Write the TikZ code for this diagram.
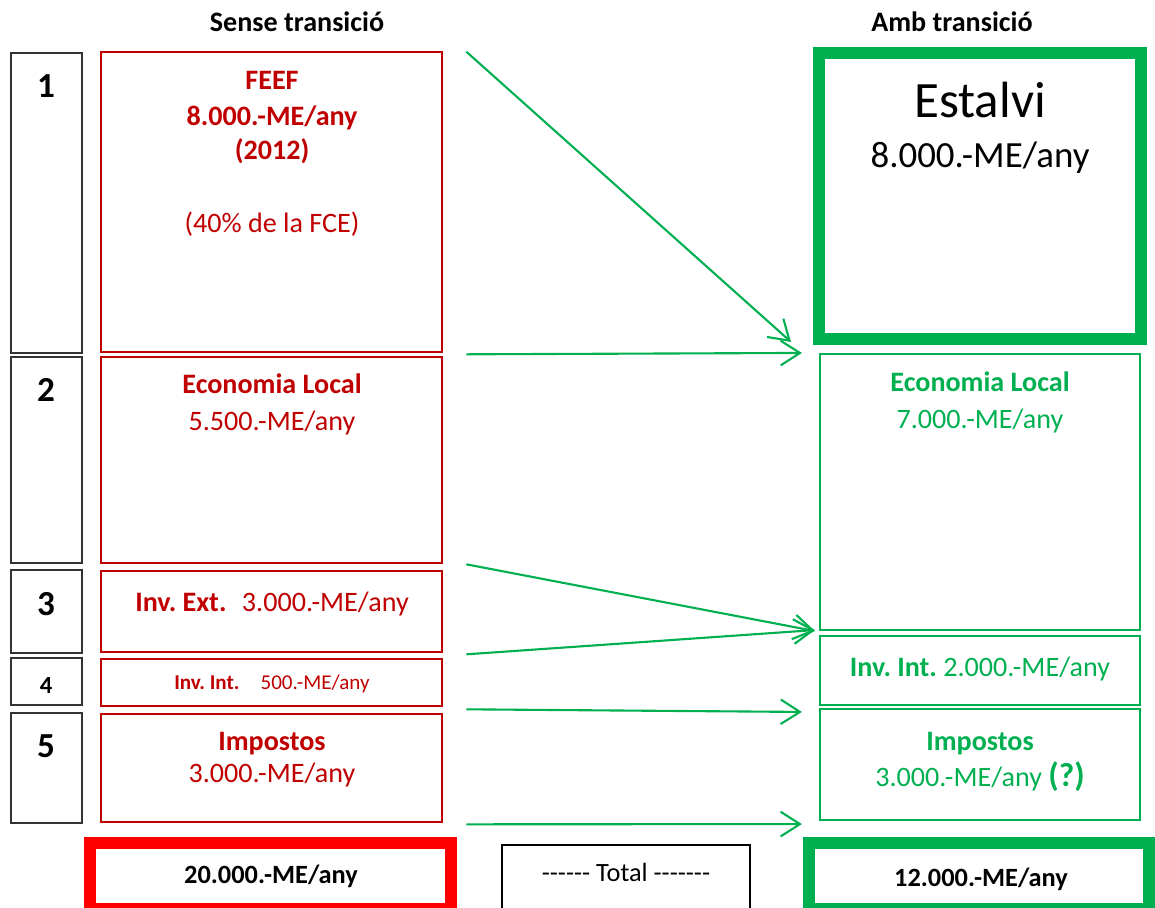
\documentclass[tikz,border=0pt]{standalone}
\usepackage{fontspec}
\setmainfont{Carlito}
\usetikzlibrary{arrows.meta,calc,fit}
\definecolor{darkred}{HTML}{C00000}
\definecolor{brightred}{HTML}{FF0000}
\definecolor{grn}{HTML}{00B050}
\newcommand{\dsh}{\hbox{-}}
\frenchspacing
\tikzset{
  numbox/.style={draw=black!80, line width=0.6pt, inner sep=0pt},
  redbox/.style={draw=darkred, line width=1.5pt, inner sep=0pt},
  grnbox/.style={draw=grn, line width=1.2pt, inner sep=0pt},
  totbox/.style={line width=6.8pt, inner sep=0pt},
  flow/.style={draw=grn, line width=1.2pt, -{Straight Barb[length=11pt,width=14pt]}},
  txt/.style={anchor=base, inner sep=0pt, font=\fontsize{16}{19}\selectfont},
  btxt/.style={anchor=base, inner sep=0pt, font=\fontsize{16}{19}\selectfont\bfseries},
  numtxt/.style={anchor=base, inner sep=0pt, font=\fontsize{20}{24}\selectfont\bfseries}
}
\begin{document}
\begin{tikzpicture}[x=0.02cm, y=-0.02cm]
\useasboundingbox (0,0) rectangle (1155,908);
\clip (0,0) rectangle (1155,908);
% headers
\node[btxt] (hdrL) at (297,32) {Sense transició};
\node[btxt] (hdrR) at (952,32) {Amb transició};
% numbered rows
\node[numbox, fit={(11,53) (82,353)}] (n1) {};
\node[numbox, fit={(11,357) (82,563)}] (n2) {};
\node[numbox, fit={(11,570) (82,653)}] (n3) {};
\node[numbox, fit={(11,658) (82,705)}] (n4) {};
\node[numbox, fit={(11,713) (82,823)}] (n5) {};
\node[numtxt] (l1) at (46,98) {1};
\node[numtxt] (l2) at (46,401) {2};
\node[numtxt] (l3) at (46,615) {3};
\node[numtxt, font=\fontsize{14}{17}\selectfont\bfseries] (l4) at (46,693) {4};
\node[numtxt] (l5) at (46,757) {5};
% sense transicio
\node[redbox, fit={(101,52) (442,352)}] (feef) {};
\node[redbox, fit={(101,357) (442,563)}] (ecoL) {};
\node[redbox, fit={(101,571) (442,652)}] (invextL) {};
\node[redbox, fit={(101,659) (442,706)}] (invintL) {};
\node[redbox, fit={(101,714) (442,822)}] (impL) {};
\node[btxt, text=darkred] (feef1) at (272,90) {FEEF};
\node[btxt, text=darkred] (feef2) at (272,126) {8.000.-ME/any};
\node[btxt, text=darkred] (feef3) at (272,160) {(2012)};
\node[txt, text=darkred] (feef4) at (272,233) {(40\% de la FCE)};
\node[btxt, text=darkred] (ecoL1) at (272,394) {Economia Local};
\node[txt, text=darkred] (ecoL2) at (272,430) {5.500.-ME/any};
\node[txt, text=darkred] (invextL1) at (272,611) {\textbf{Inv. Ext.}\hspace{0.55em}3.000.-ME/any};
\node[txt, text=darkred, font=\fontsize{12}{14}\selectfont] (invintL1) at (272,689) {\textbf{Inv. Int.}\hspace{1em}500.-ME/any};
\node[btxt, text=darkred] (impL1) at (272,750) {Impostos};
\node[txt, text=darkred] (impL2) at (272,782) {3.000.-ME/any};
% amb transicio
\node[totbox, draw=grn, fit={(819,53) (1141,339)}] (estalvi) {};
\node[grnbox, fit={(820,354) (1140,630)}] (ecoR) {};
\node[grnbox, fit={(820,636) (1140,705)}] (invintR) {};
\node[grnbox, fit={(820,709) (1140,820)}] (impR) {};
\node[txt, font=\fontsize{29}{34}\selectfont] (est1) at (980,118) {Estalvi};
\node[txt, font=\fontsize{21}{25}\selectfont] (est2) at (980,168) {8.000.-ME/any};
\node[btxt, text=grn] (ecoR1) at (980,392) {Economia Local};
\node[txt, text=grn] (ecoR2) at (980,428) {7.000.-ME/any};
\node[txt, text=grn] (invintR1) at (980,676) {\textbf{Inv. Int.} 2.000.-ME/any};
\node[btxt, text=grn] (impR1) at (980,750) {Impostos};
\node[txt, text=grn] (impR2) at (980,786) {3.000.-ME/any {\fontsize{19}{22}\selectfont\bfseries(?)}};
% fluxos
\draw[flow] ($(feef.north east)+(23,1)$) -- ($(estalvi.south west)+(-22,-3)$);
\draw[flow] ($(feef.south east)+(23,1)$) -- ($(ecoR.north west)+(-17,0)$);
\draw[flow] ($(ecoL.south east)+(23,0)$) -- ($(ecoR.south west)+(-4,0)$);
\draw[flow] ($(invextL.south east)+(23,1)$) -- ($(ecoR.south west)+(-4,-1)$);
\draw[flow] ($(invintL.south east)+(23,2)$) -- ($(impR.north west)+(-17,4)$);
\draw[flow] ($(impL.south east)+(23,1)$) -- ($(impR.south west)+(-17,3)$);
% totals
\node[totbox, draw=brightred, fit={(90,843) (451,909)}] (totL) {};
\node[numbox, draw=black, line width=1pt, fit={(502,845) (750,914)}] (totM) {};
\node[totbox, draw=grn, fit={(809,843) (1149,909)}] (totR) {};
\node[btxt, font=\fontsize{15}{18}\selectfont\bfseries] (totL1) at (271,883) {20.000.-ME/any};
\node[txt, font=\fontsize{15}{18}\selectfont] (totM1) at (626,881) {\dsh\dsh\dsh\dsh\dsh\dsh{} Total \dsh\dsh\dsh\dsh\dsh\dsh\dsh};
\node[btxt, font=\fontsize{15}{18}\selectfont\bfseries] (totR1) at (981,886) {12.000.-ME/any};
\end{tikzpicture}
\end{document}
